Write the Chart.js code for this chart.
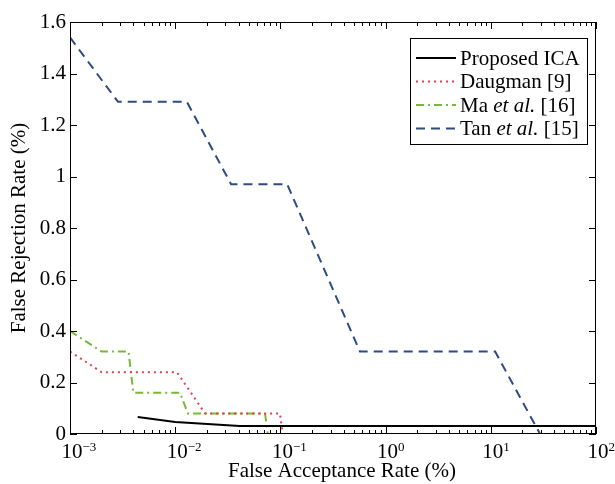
<!DOCTYPE html>
<html>
<head>
<meta charset="utf-8">
<script src="https://cdn.jsdelivr.net/npm/chart.js@4"></script>
<style>
  html, body { margin: 0; padding: 0; background: #fff; }
</style>
</head>
<body>
<canvas id="chart" width="615" height="484"></canvas>
<script>
// values (FAR in %, FRR in %)
var icaX  = [0.0044, 0.01, 0.041, 100];
var icaY  = [0.066, 0.047, 0.031, 0.031];
var daugX = [0.001, 0.002, 0.0104, 0.0192, 0.099, 0.105, 100];
var daugY = [0.32, 0.24, 0.24, 0.08, 0.08, 0, 0];
var maX   = [0.001, 0.002, 0.0036, 0.004, 0.0111, 0.0132, 0.0714, 0.076, 100];
var maY   = [0.40, 0.32, 0.32, 0.16, 0.16, 0.08, 0.08, 0, 0];
var tanX  = [0.001, 0.00286, 0.0129, 0.034, 0.116, 0.57, 11, 29.4];
var tanY  = [1.54, 1.29, 1.29, 0.97, 0.97, 0.32, 0.32, 0];

var xDecades = [-3, -2, -1, 0, 1, 2];
var xTitle = 'False Acceptance Rate (%)';
var yTitle = 'False Rejection Rate (%)';
var legendLabels = [
  [['Proposed ICA', 'normal']],
  [['Daugman [9]', 'normal']],
  [['Ma ', 'normal'], ['et al.', 'italic'], [' [16]', 'normal']],
  [['Tan ', 'normal'], ['et al.', 'italic'], [' [15]', 'normal']]
];

var SERIF = "'Liberation Serif', 'Times New Roman', serif";

function pts(xs, ys) {
  var out = [];
  for (var i = 0; i < xs.length; i++) out.push({x: xs[i], y: ys[i]});
  return out;
}

var framePlugin = {
  id: 'frame',
  afterDraw: function(chart) {
    var ctx = chart.ctx;
    var a = chart.chartArea;
    var xs = chart.scales.x, ys = chart.scales.y;
    ctx.save();
    ctx.strokeStyle = '#000';
    ctx.lineWidth = 1;
    ctx.strokeRect(a.left + 0.5, a.top + 0.5, a.right - a.left - 1, a.bottom - a.top - 1);

    // log ticks, inward, bottom and top
    ctx.beginPath();
    for (var d = -3; d <= 2; d++) {
      for (var m = 1; m <= 9; m++) {
        if (d == 2 && m > 1) break;
        var px = Math.round(xs.getPixelForValue(m * Math.pow(10, d))) + 0.5;
        var len = (m == 1) ? 7 : 4;
        ctx.moveTo(px, a.bottom); ctx.lineTo(px, a.bottom - len);
        ctx.moveTo(px, a.top); ctx.lineTo(px, a.top + len);
      }
    }
    ys.ticks.forEach(function(t) {
      var py = Math.round(ys.getPixelForValue(t.value)) + 0.5;
      ctx.moveTo(a.left, py); ctx.lineTo(a.left + 7, py);
      ctx.moveTo(a.right, py); ctx.lineTo(a.right - 7, py);
    });
    ctx.stroke();

    // x tick labels with exponents
    ctx.fillStyle = '#000';
    ctx.textBaseline = 'alphabetic';
    xDecades.forEach(function(d) {
      var px = xs.getPixelForValue(Math.pow(10, d));
      ctx.font = '21px ' + SERIF;
      ctx.textAlign = 'center';
      ctx.fillText('10', px + 2, a.bottom + 24);
      var w = ctx.measureText('10').width;
      ctx.font = '13px ' + SERIF;
      ctx.textAlign = 'left';
      ctx.fillText(d < 0 ? '\u2212' + (-d) : String(d), px + 2 + w / 2, a.bottom + 17);
    });

    // x axis title (sits a little right of centre in the original)
    ctx.font = '21px ' + SERIF;
    ctx.textAlign = 'center';
    ctx.fillText(xTitle, (a.left + a.right) / 2 + 9, a.bottom + 43);

    // legend
    var bx = 410, by = 38, bw = 177, bh = 106;
    ctx.fillStyle = '#fff';
    ctx.fillRect(bx, by, bw, bh);
    ctx.strokeStyle = '#000';
    ctx.lineWidth = 1;
    ctx.strokeRect(bx + 0.5, by + 0.5, bw, bh);
    chart.data.datasets.forEach(function(ds, i) {
      var ly = by + 20 + i * 23.5;
      ctx.save();
      ctx.strokeStyle = ds.borderColor;
      ctx.lineWidth = ds.borderWidth;
      ctx.setLineDash(ds.borderDash || []);
      ctx.beginPath();
      ctx.moveTo(bx + 6, ly);
      ctx.lineTo(bx + 46, ly);
      ctx.stroke();
      ctx.restore();
      var tx = bx + 50;
      ctx.fillStyle = '#000';
      ctx.textAlign = 'left';
      ctx.textBaseline = 'middle';
      legendLabels[i].forEach(function(part) {
        ctx.font = (part[1] == 'italic' ? 'italic ' : '') + '21px ' + SERIF;
        ctx.fillText(part[0], tx, ly + 1);
        tx += ctx.measureText(part[0]).width;
      });
    });
    ctx.restore();
  }
};

var ctx = document.getElementById('chart').getContext('2d');
var chart = new Chart(ctx, {
  type: 'scatter',
  data: {
    datasets: [{
      label: 'Proposed ICA',
      data: pts(icaX, icaY),
      borderColor: '#000000',
      borderWidth: 2
    }, {
      label: 'Daugman [9]',
      data: pts(daugX, daugY),
      borderColor: '#e0404a',
      borderWidth: 2,
      borderDash: [2, 4]
    }, {
      label: 'Ma et al. [16]',
      data: pts(maX, maY),
      borderColor: '#78b834',
      borderWidth: 2,
      borderDash: [8, 4, 2, 4]
    }, {
      label: 'Tan et al. [15]',
      data: pts(tanX, tanY),
      borderColor: '#2c4a86',
      borderWidth: 2,
      borderDash: [9, 6]
    }]
  },
  options: {
    responsive: false,
    animation: false,
    devicePixelRatio: 1,
    showLine: true,
    elements: {
      point: { radius: 0, hoverRadius: 0 },
      line: { tension: 0, fill: false }
    },
    layout: { padding: { top: 22, right: 19, left: 0, bottom: 0 } },
    plugins: {
      legend: { display: false },
      tooltip: { enabled: false }
    },
    scales: {
      x: {
        type: 'logarithmic',
        min: 0.001,
        max: 100,
        grid: { display: false },
        border: { display: false },
        ticks: { display: false },
        afterFit: function(s) { s.height = 50; }
      },
      y: {
        min: 0,
        max: 1.6,
        grid: { display: false, drawTicks: false },
        border: { display: false },
        ticks: {
          stepSize: 0.2,
          padding: 4,
          color: '#000',
          font: { family: SERIF, size: 21 },
          callback: function(v) {
            var r = Math.round(v * 10) / 10;
            return (r == 0 || r == 1) ? String(r) : r.toFixed(1);
          }
        },
        title: {
          display: true,
          text: yTitle,
          color: '#000',
          font: { family: SERIF, size: 21 },
          padding: { top: 7, bottom: 0 }
        },
        afterFit: function(s) { s.width = 70; }
      }
    }
  },
  plugins: [framePlugin]
});
</script>
</body>
</html>
